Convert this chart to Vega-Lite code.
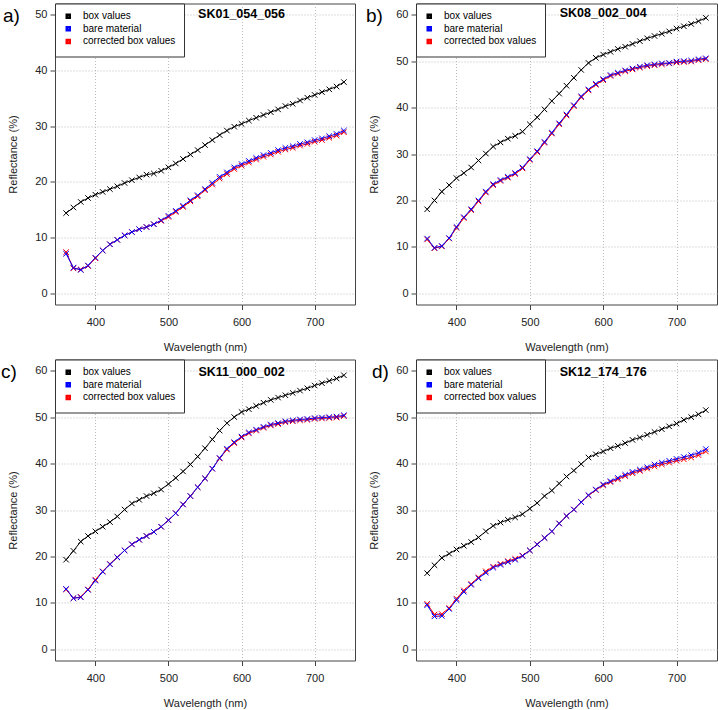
{
  "$schema": "https://vega.github.io/schema/vega-lite/v6.json",
  "autosize": {"type": "pad"},
  "padding": {"left": 0, "top": 2.5, "right": 0, "bottom": 0},
  "background": "white",
  "data": {"values": [
    {"p":"a","w":360,"box values":14.4,"bare material":7.1,"corrected box values":7.4},
    {"p":"a","w":370,"box values":15.4,"bare material":4.6,"corrected box values":4.5},
    {"p":"a","w":380,"box values":16.4,"bare material":4.2,"corrected box values":4.3},
    {"p":"a","w":390,"box values":17.1,"bare material":5.0,"corrected box values":4.9},
    {"p":"a","w":400,"box values":17.7,"bare material":6.4,"corrected box values":6.3},
    {"p":"a","w":410,"box values":18.2,"bare material":7.7,"corrected box values":7.7},
    {"p":"a","w":420,"box values":18.7,"bare material":8.8,"corrected box values":8.8},
    {"p":"a","w":430,"box values":19.2,"bare material":9.6,"corrected box values":9.6},
    {"p":"a","w":440,"box values":19.8,"bare material":10.4,"corrected box values":10.4},
    {"p":"a","w":450,"box values":20.3,"bare material":11.0,"corrected box values":11.0},
    {"p":"a","w":460,"box values":20.8,"bare material":11.5,"corrected box values":11.5},
    {"p":"a","w":470,"box values":21.3,"bare material":11.9,"corrected box values":11.9},
    {"p":"a","w":480,"box values":21.5,"bare material":12.4,"corrected box values":12.4},
    {"p":"a","w":490,"box values":22.0,"bare material":13.1,"corrected box values":13.0},
    {"p":"a","w":500,"box values":22.6,"bare material":13.9,"corrected box values":13.7},
    {"p":"a","w":510,"box values":23.3,"bare material":14.8,"corrected box values":14.6},
    {"p":"a","w":520,"box values":24.1,"bare material":15.7,"corrected box values":15.5},
    {"p":"a","w":530,"box values":24.9,"bare material":16.7,"corrected box values":16.5},
    {"p":"a","w":540,"box values":25.7,"bare material":17.6,"corrected box values":17.4},
    {"p":"a","w":550,"box values":26.6,"bare material":18.7,"corrected box values":18.5},
    {"p":"a","w":560,"box values":27.5,"bare material":19.8,"corrected box values":19.5},
    {"p":"a","w":570,"box values":28.4,"bare material":20.9,"corrected box values":20.6},
    {"p":"a","w":580,"box values":29.2,"bare material":21.7,"corrected box values":21.4},
    {"p":"a","w":590,"box values":29.9,"bare material":22.6,"corrected box values":22.3},
    {"p":"a","w":600,"box values":30.4,"bare material":23.2,"corrected box values":22.9},
    {"p":"a","w":610,"box values":31.0,"bare material":23.75,"corrected box values":23.45},
    {"p":"a","w":620,"box values":31.5,"bare material":24.3,"corrected box values":24.0},
    {"p":"a","w":630,"box values":32.0,"bare material":24.8,"corrected box values":24.5},
    {"p":"a","w":640,"box values":32.5,"bare material":25.2,"corrected box values":24.9},
    {"p":"a","w":650,"box values":33.0,"bare material":25.7,"corrected box values":25.4},
    {"p":"a","w":660,"box values":33.6,"bare material":26.1,"corrected box values":25.8},
    {"p":"a","w":670,"box values":34.0,"bare material":26.4,"corrected box values":26.1},
    {"p":"a","w":680,"box values":34.6,"bare material":26.8,"corrected box values":26.5},
    {"p":"a","w":690,"box values":35.1,"bare material":27.1,"corrected box values":26.8},
    {"p":"a","w":700,"box values":35.6,"bare material":27.5,"corrected box values":27.2},
    {"p":"a","w":710,"box values":36.1,"bare material":27.8,"corrected box values":27.5},
    {"p":"a","w":720,"box values":36.6,"bare material":28.2,"corrected box values":27.9},
    {"p":"a","w":730,"box values":37.1,"bare material":28.6,"corrected box values":28.3},
    {"p":"a","w":740,"box values":37.9,"bare material":29.2,"corrected box values":28.9},
    {"p":"b","w":360,"box values":18.1,"bare material":11.8,"corrected box values":11.6},
    {"p":"b","w":370,"box values":20.0,"bare material":9.8,"corrected box values":9.7},
    {"p":"b","w":380,"box values":21.9,"bare material":10.2,"corrected box values":10.1},
    {"p":"b","w":390,"box values":23.3,"bare material":11.9,"corrected box values":11.8},
    {"p":"b","w":400,"box values":24.8,"bare material":14.3,"corrected box values":14.1},
    {"p":"b","w":410,"box values":25.9,"bare material":16.4,"corrected box values":16.2},
    {"p":"b","w":420,"box values":27.1,"bare material":18.1,"corrected box values":17.9},
    {"p":"b","w":430,"box values":28.6,"bare material":20.0,"corrected box values":19.8},
    {"p":"b","w":440,"box values":30.1,"bare material":21.9,"corrected box values":21.7},
    {"p":"b","w":450,"box values":31.6,"bare material":23.5,"corrected box values":23.3},
    {"p":"b","w":460,"box values":32.5,"bare material":24.4,"corrected box values":24.2},
    {"p":"b","w":470,"box values":33.3,"bare material":25.1,"corrected box values":24.9},
    {"p":"b","w":480,"box values":33.9,"bare material":25.9,"corrected box values":25.7},
    {"p":"b","w":490,"box values":34.8,"bare material":27.1,"corrected box values":26.9},
    {"p":"b","w":500,"box values":36.4,"bare material":28.9,"corrected box values":28.7},
    {"p":"b","w":510,"box values":37.9,"bare material":30.6,"corrected box values":30.4},
    {"p":"b","w":520,"box values":39.6,"bare material":32.6,"corrected box values":32.4},
    {"p":"b","w":530,"box values":41.4,"bare material":34.6,"corrected box values":34.4},
    {"p":"b","w":540,"box values":43.0,"bare material":36.6,"corrected box values":36.4},
    {"p":"b","w":550,"box values":44.7,"bare material":38.5,"corrected box values":38.3},
    {"p":"b","w":560,"box values":46.4,"bare material":40.5,"corrected box values":40.3},
    {"p":"b","w":570,"box values":48.1,"bare material":42.4,"corrected box values":42.2},
    {"p":"b","w":580,"box values":49.6,"bare material":43.9,"corrected box values":43.7},
    {"p":"b","w":590,"box values":50.7,"bare material":45.1,"corrected box values":44.9},
    {"p":"b","w":600,"box values":51.4,"bare material":46.1,"corrected box values":45.9},
    {"p":"b","w":610,"box values":52.0,"bare material":47.0,"corrected box values":46.8},
    {"p":"b","w":620,"box values":52.6,"bare material":47.5,"corrected box values":47.3},
    {"p":"b","w":630,"box values":53.1,"bare material":48.0,"corrected box values":47.8},
    {"p":"b","w":640,"box values":53.7,"bare material":48.4,"corrected box values":48.2},
    {"p":"b","w":650,"box values":54.3,"bare material":48.8,"corrected box values":48.6},
    {"p":"b","w":660,"box values":54.9,"bare material":49.1,"corrected box values":48.9},
    {"p":"b","w":670,"box values":55.4,"bare material":49.3,"corrected box values":49.1},
    {"p":"b","w":680,"box values":55.9,"bare material":49.5,"corrected box values":49.3},
    {"p":"b","w":690,"box values":56.4,"bare material":49.6,"corrected box values":49.5},
    {"p":"b","w":700,"box values":57.0,"bare material":49.9,"corrected box values":49.7},
    {"p":"b","w":710,"box values":57.5,"bare material":50.0,"corrected box values":49.8},
    {"p":"b","w":720,"box values":58.0,"bare material":50.1,"corrected box values":49.9},
    {"p":"b","w":730,"box values":58.6,"bare material":50.4,"corrected box values":50.2},
    {"p":"b","w":740,"box values":59.3,"bare material":50.6,"corrected box values":50.4},
    {"p":"c","w":360,"box values":19.3,"bare material":13.0,"corrected box values":12.9},
    {"p":"c","w":370,"box values":21.2,"bare material":11.0,"corrected box values":11.0},
    {"p":"c","w":380,"box values":23.2,"bare material":11.2,"corrected box values":11.3},
    {"p":"c","w":390,"box values":24.4,"bare material":12.8,"corrected box values":12.9},
    {"p":"c","w":400,"box values":25.4,"bare material":14.8,"corrected box values":15.0},
    {"p":"c","w":410,"box values":26.4,"bare material":16.7,"corrected box values":16.8},
    {"p":"c","w":420,"box values":27.4,"bare material":18.3,"corrected box values":18.4},
    {"p":"c","w":430,"box values":28.6,"bare material":19.8,"corrected box values":19.8},
    {"p":"c","w":440,"box values":30.1,"bare material":21.3,"corrected box values":21.3},
    {"p":"c","w":450,"box values":31.4,"bare material":22.6,"corrected box values":22.6},
    {"p":"c","w":460,"box values":32.2,"bare material":23.6,"corrected box values":23.6},
    {"p":"c","w":470,"box values":33.0,"bare material":24.4,"corrected box values":24.4},
    {"p":"c","w":480,"box values":33.6,"bare material":25.3,"corrected box values":25.3},
    {"p":"c","w":490,"box values":34.4,"bare material":26.4,"corrected box values":26.4},
    {"p":"c","w":500,"box values":35.6,"bare material":27.8,"corrected box values":27.8},
    {"p":"c","w":510,"box values":36.9,"bare material":29.3,"corrected box values":29.3},
    {"p":"c","w":520,"box values":38.3,"bare material":31.2,"corrected box values":31.2},
    {"p":"c","w":530,"box values":39.8,"bare material":33.0,"corrected box values":33.0},
    {"p":"c","w":540,"box values":41.5,"bare material":34.9,"corrected box values":34.9},
    {"p":"c","w":550,"box values":43.3,"bare material":36.8,"corrected box values":36.8},
    {"p":"c","w":560,"box values":45.2,"bare material":38.9,"corrected box values":38.9},
    {"p":"c","w":570,"box values":47.1,"bare material":41.2,"corrected box values":41.1},
    {"p":"c","w":580,"box values":48.7,"bare material":43.2,"corrected box values":43.0},
    {"p":"c","w":590,"box values":50.0,"bare material":44.6,"corrected box values":44.4},
    {"p":"c","w":600,"box values":51.1,"bare material":45.8,"corrected box values":45.6},
    {"p":"c","w":610,"box values":51.7,"bare material":46.7,"corrected box values":46.5},
    {"p":"c","w":620,"box values":52.4,"bare material":47.3,"corrected box values":47.1},
    {"p":"c","w":630,"box values":53.1,"bare material":47.9,"corrected box values":47.7},
    {"p":"c","w":640,"box values":53.7,"bare material":48.4,"corrected box values":48.2},
    {"p":"c","w":650,"box values":54.2,"bare material":48.7,"corrected box values":48.5},
    {"p":"c","w":660,"box values":54.7,"bare material":49.1,"corrected box values":48.9},
    {"p":"c","w":670,"box values":55.2,"bare material":49.3,"corrected box values":49.1},
    {"p":"c","w":680,"box values":55.7,"bare material":49.5,"corrected box values":49.3},
    {"p":"c","w":690,"box values":56.2,"bare material":49.6,"corrected box values":49.4},
    {"p":"c","w":700,"box values":56.8,"bare material":49.8,"corrected box values":49.6},
    {"p":"c","w":710,"box values":57.3,"bare material":49.9,"corrected box values":49.7},
    {"p":"c","w":720,"box values":57.8,"bare material":50.0,"corrected box values":49.8},
    {"p":"c","w":730,"box values":58.3,"bare material":50.1,"corrected box values":49.9},
    {"p":"c","w":740,"box values":59.0,"bare material":50.4,"corrected box values":50.2},
    {"p":"d","w":360,"box values":16.4,"bare material":9.5,"corrected box values":9.8},
    {"p":"d","w":370,"box values":18.1,"bare material":7.1,"corrected box values":7.5},
    {"p":"d","w":380,"box values":19.7,"bare material":7.2,"corrected box values":7.6},
    {"p":"d","w":390,"box values":20.6,"bare material":8.7,"corrected box values":8.9},
    {"p":"d","w":400,"box values":21.5,"bare material":10.6,"corrected box values":10.9},
    {"p":"d","w":410,"box values":22.3,"bare material":12.4,"corrected box values":12.7},
    {"p":"d","w":420,"box values":23.1,"bare material":13.9,"corrected box values":14.1},
    {"p":"d","w":430,"box values":24.1,"bare material":15.3,"corrected box values":15.5},
    {"p":"d","w":440,"box values":25.4,"bare material":16.5,"corrected box values":16.8},
    {"p":"d","w":450,"box values":26.6,"bare material":17.6,"corrected box values":17.8},
    {"p":"d","w":460,"box values":27.3,"bare material":18.2,"corrected box values":18.4},
    {"p":"d","w":470,"box values":27.9,"bare material":18.8,"corrected box values":19.0},
    {"p":"d","w":480,"box values":28.4,"bare material":19.3,"corrected box values":19.5},
    {"p":"d","w":490,"box values":29.1,"bare material":20.1,"corrected box values":20.2},
    {"p":"d","w":500,"box values":30.3,"bare material":21.3,"corrected box values":21.3},
    {"p":"d","w":510,"box values":31.5,"bare material":22.6,"corrected box values":22.6},
    {"p":"d","w":520,"box values":33.0,"bare material":24.0,"corrected box values":24.0},
    {"p":"d","w":530,"box values":34.2,"bare material":25.4,"corrected box values":25.4},
    {"p":"d","w":540,"box values":35.7,"bare material":27.1,"corrected box values":27.1},
    {"p":"d","w":550,"box values":37.2,"bare material":28.7,"corrected box values":28.7},
    {"p":"d","w":560,"box values":38.5,"bare material":30.1,"corrected box values":30.1},
    {"p":"d","w":570,"box values":39.9,"bare material":31.7,"corrected box values":31.7},
    {"p":"d","w":580,"box values":41.3,"bare material":33.2,"corrected box values":33.1},
    {"p":"d","w":590,"box values":42.0,"bare material":34.4,"corrected box values":34.3},
    {"p":"d","w":600,"box values":42.6,"bare material":35.5,"corrected box values":35.3},
    {"p":"d","w":610,"box values":43.3,"bare material":36.2,"corrected box values":36.0},
    {"p":"d","w":620,"box values":43.8,"bare material":36.9,"corrected box values":36.6},
    {"p":"d","w":630,"box values":44.4,"bare material":37.6,"corrected box values":37.3},
    {"p":"d","w":640,"box values":45.1,"bare material":38.2,"corrected box values":37.9},
    {"p":"d","w":650,"box values":45.6,"bare material":38.7,"corrected box values":38.4},
    {"p":"d","w":660,"box values":46.2,"bare material":39.2,"corrected box values":38.9},
    {"p":"d","w":670,"box values":46.8,"bare material":39.8,"corrected box values":39.4},
    {"p":"d","w":680,"box values":47.4,"bare material":40.2,"corrected box values":39.8},
    {"p":"d","w":690,"box values":48.0,"bare material":40.6,"corrected box values":40.2},
    {"p":"d","w":700,"box values":48.6,"bare material":41.0,"corrected box values":40.6},
    {"p":"d","w":710,"box values":49.4,"bare material":41.4,"corrected box values":40.9},
    {"p":"d","w":720,"box values":50.0,"bare material":41.8,"corrected box values":41.3},
    {"p":"d","w":730,"box values":50.6,"bare material":42.3,"corrected box values":41.8},
    {"p":"d","w":740,"box values":51.5,"bare material":43.1,"corrected box values":42.6}
  ]},
  "transform": [{"fold": ["box values", "corrected box values", "bare material"], "as": ["series", "refl"]}],
  "columns": 2,
  "spacing": {"row": 55, "column": 61},
  "bounds": "flush",
  "resolve": {"scale": {"y": "independent", "x": "independent", "color": "independent"}, "legend": {"color": "independent"}},
  "concat": [
    {
      "width": 300, "height": 301,
      "title": {"text": "a)", "dx": -52},
      "transform": [{"filter": "datum.p === 'a'"}],
      "layer": [
        {"mark": {"type": "line", "strokeWidth": 1},
         "encoding": {
           "x": {"field": "w", "type": "quantitative", "scale": {"domain": [344.8, 755.2], "nice": false, "zero": false}, "axis": {"title": "Wavelength (nm)", "values": [400, 500, 600, 700]}},
           "y": {"field": "refl", "type": "quantitative", "scale": {"domain": [-2, 52], "nice": false, "zero": false}, "axis": {"title": "Reflectance (%)", "values": [0, 10, 20, 30, 40, 50]}},
           "color": {"field": "series", "type": "nominal", "scale": {"domain": ["box values", "bare material", "corrected box values"], "range": ["#000000", "#0000ff", "#ff0000"]},
             "legend": {"title": null, "symbolType": "square", "symbolSize": 9, "symbolStrokeWidth": 2.5, "labelExpr": "datum.label + '\u00a0\u00a0\u00a0\u00a0\u00a0\u00a0'"}}
         }},
        {"mark": {"type": "point", "shape": "M-1,-1L1,1M-1,1L1,-1", "filled": false, "size": 30, "strokeWidth": 1, "opacity": 1},
         "encoding": {
           "x": {"field": "w", "type": "quantitative"},
           "y": {"field": "refl", "type": "quantitative"},
           "color": {"field": "series", "type": "nominal", "legend": null}
         }},
        {"data": {"values": [{"t": "SK01_054_056"}]},
         "mark": {"type": "text", "fontWeight": "bold", "fontSize": 12.5, "color": "black"},
         "encoding": {"text": {"field": "t"}, "x": {"datum": 600}, "y": {"datum": 50.2}}}
      ]
    },
    {
      "width": 301, "height": 301,
      "title": {"text": "b)", "dx": -50},
      "transform": [{"filter": "datum.p === 'b'"}],
      "layer": [
        {"mark": {"type": "line", "strokeWidth": 1},
         "encoding": {
           "x": {"field": "w", "type": "quantitative", "scale": {"domain": [344.8, 755.2], "nice": false, "zero": false}, "axis": {"title": "Wavelength (nm)", "values": [400, 500, 600, 700]}},
           "y": {"field": "refl", "type": "quantitative", "scale": {"domain": [-2.4, 62.4], "nice": false, "zero": false}, "axis": {"title": "Reflectance (%)", "values": [0, 10, 20, 30, 40, 50, 60]}},
           "color": {"field": "series", "type": "nominal", "scale": {"domain": ["box values", "bare material", "corrected box values"], "range": ["#000000", "#0000ff", "#ff0000"]},
             "legend": {"title": null, "symbolType": "square", "symbolSize": 9, "symbolStrokeWidth": 2.5, "labelExpr": "datum.label + '\u00a0\u00a0\u00a0\u00a0\u00a0\u00a0'"}}
         }},
        {"mark": {"type": "point", "shape": "M-1,-1L1,1M-1,1L1,-1", "filled": false, "size": 30, "strokeWidth": 1, "opacity": 1},
         "encoding": {
           "x": {"field": "w", "type": "quantitative"},
           "y": {"field": "refl", "type": "quantitative"},
           "color": {"field": "series", "type": "nominal", "legend": null}
         }},
        {"data": {"values": [{"t": "SK08_002_004"}]},
         "mark": {"type": "text", "fontWeight": "bold", "fontSize": 12.5, "color": "black"},
         "encoding": {"text": {"field": "t"}, "x": {"datum": 600}, "y": {"datum": 60.25}}}
      ]
    },
    {
      "width": 300, "height": 301,
      "title": {"text": "c)", "dx": -54},
      "transform": [{"filter": "datum.p === 'c'"}],
      "layer": [
        {"mark": {"type": "line", "strokeWidth": 1},
         "encoding": {
           "x": {"field": "w", "type": "quantitative", "scale": {"domain": [344.8, 755.2], "nice": false, "zero": false}, "axis": {"title": "Wavelength (nm)", "values": [400, 500, 600, 700]}},
           "y": {"field": "refl", "type": "quantitative", "scale": {"domain": [-2.4, 62.4], "nice": false, "zero": false}, "axis": {"title": "Reflectance (%)", "values": [0, 10, 20, 30, 40, 50, 60]}},
           "color": {"field": "series", "type": "nominal", "scale": {"domain": ["box values", "bare material", "corrected box values"], "range": ["#000000", "#0000ff", "#ff0000"]},
             "legend": {"title": null, "symbolType": "square", "symbolSize": 9, "symbolStrokeWidth": 2.5, "labelExpr": "datum.label + '\u00a0\u00a0\u00a0\u00a0\u00a0\u00a0'"}}
         }},
        {"mark": {"type": "point", "shape": "M-1,-1L1,1M-1,1L1,-1", "filled": false, "size": 30, "strokeWidth": 1, "opacity": 1},
         "encoding": {
           "x": {"field": "w", "type": "quantitative"},
           "y": {"field": "refl", "type": "quantitative"},
           "color": {"field": "series", "type": "nominal", "legend": null}
         }},
        {"data": {"values": [{"t": "SK11_000_002"}]},
         "mark": {"type": "text", "fontWeight": "bold", "fontSize": 12.5, "color": "black"},
         "encoding": {"text": {"field": "t"}, "x": {"datum": 600}, "y": {"datum": 59.8}}}
      ]
    },
    {
      "width": 301, "height": 301,
      "title": {"text": "d)", "dx": -44},
      "transform": [{"filter": "datum.p === 'd'"}],
      "layer": [
        {"mark": {"type": "line", "strokeWidth": 1},
         "encoding": {
           "x": {"field": "w", "type": "quantitative", "scale": {"domain": [344.8, 755.2], "nice": false, "zero": false}, "axis": {"title": "Wavelength (nm)", "values": [400, 500, 600, 700]}},
           "y": {"field": "refl", "type": "quantitative", "scale": {"domain": [-2.4, 62.4], "nice": false, "zero": false}, "axis": {"title": "Reflectance (%)", "values": [0, 10, 20, 30, 40, 50, 60]}},
           "color": {"field": "series", "type": "nominal", "scale": {"domain": ["box values", "bare material", "corrected box values"], "range": ["#000000", "#0000ff", "#ff0000"]},
             "legend": {"title": null, "symbolType": "square", "symbolSize": 9, "symbolStrokeWidth": 2.5, "labelExpr": "datum.label + '\u00a0\u00a0\u00a0\u00a0\u00a0\u00a0'"}}
         }},
        {"mark": {"type": "point", "shape": "M-1,-1L1,1M-1,1L1,-1", "filled": false, "size": 30, "strokeWidth": 1, "opacity": 1},
         "encoding": {
           "x": {"field": "w", "type": "quantitative"},
           "y": {"field": "refl", "type": "quantitative"},
           "color": {"field": "series", "type": "nominal", "legend": null}
         }},
        {"data": {"values": [{"t": "SK12_174_176"}]},
         "mark": {"type": "text", "fontWeight": "bold", "fontSize": 12.5, "color": "black"},
         "encoding": {"text": {"field": "t"}, "x": {"datum": 600}, "y": {"datum": 59.8}}}
      ]
    }
  ],
  "config": {
    "font": "Liberation Sans",
    "view": {"stroke": "#444444", "strokeWidth": 1},
    "title": {"anchor": "start", "frame": "group", "offset": 0, "dy": 27, "baseline": "alphabetic", "fontSize": 19, "fontWeight": "normal", "color": "#000000"},
    "axis": {"domain": false, "tickColor": "#444444", "tickSize": 5, "tickWidth": 1, "labelFontSize": 11, "labelColor": "#222222", "titleFontSize": 11, "titleFontWeight": "normal", "titleColor": "#222222", "gridColor": "#bbbbbb", "gridDash": [1, 2], "gridWidth": 1, "labelFlush": false},
    "axisX": {"labelPadding": 7, "titlePadding": 14},
    "axisY": {"labelPadding": 3, "titlePadding": 16},
    "legend": {"orient": "top-left", "offset": 0, "strokeColor": "#333333", "fillColor": "#ffffff", "padding": 7.75, "labelFontSize": 10, "labelColor": "#000000", "rowPadding": -1.4, "labelOffset": 9.75, "symbolOffset": 0.5, "cornerRadius": 0}
  }
}
